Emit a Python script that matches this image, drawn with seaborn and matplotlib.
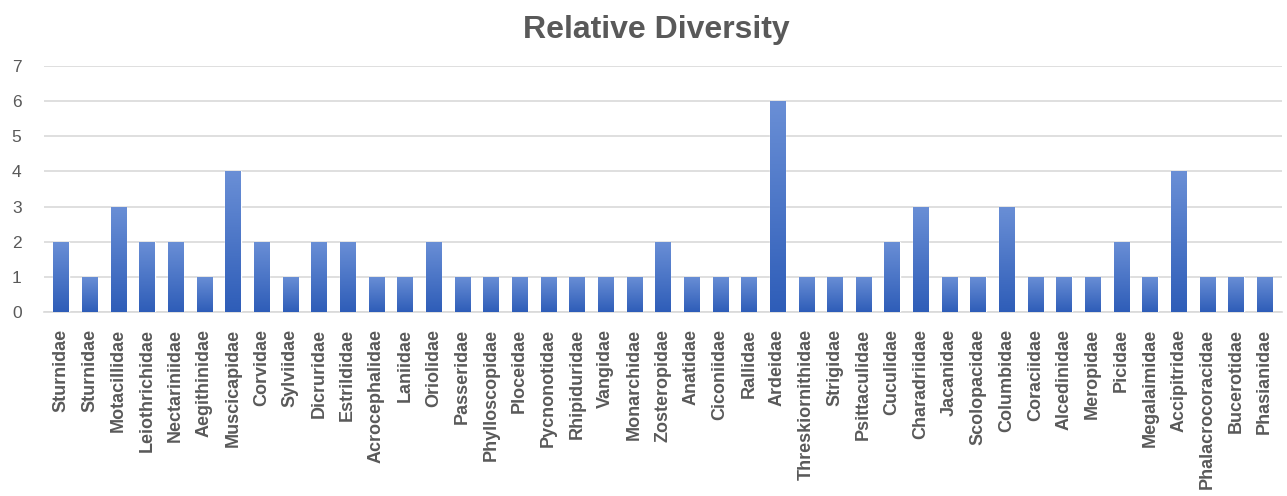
import matplotlib
matplotlib.use("Agg")
import matplotlib.pyplot as plt
import numpy as np
import pandas as pd
import seaborn as sns

families = ["Sturnidae", "Sturnidae", "Motacillidae", "Leiothrichidae", "Nectariniidae",
            "Aegithinidae", "Muscicapidae", "Corvidae", "Sylviidae", "Dicruridae",
            "Estrildidae", "Acrocephalidae", "Laniidae", "Oriolidae", "Passeridae",
            "Phylloscopidae", "Ploceidae", "Pycnonotidae", "Rhipiduridae", "Vangidae",
            "Monarchidae", "Zosteropidae", "Anatidae", "Ciconiidae", "Rallidae",
            "Ardeidae", "Threskiornithidae", "Strigidae", "Psittaculidae", "Cuculidae",
            "Charadriidae", "Jacanidae", "Scolopacidae", "Columbidae", "Coraciidae",
            "Alcedinidae", "Meropidae", "Picidae", "Megalaimidae", "Accipitridae",
            "Phalacrocoracidae", "Bucerotidae", "Phasianidae"]
diversity = [2, 1, 3, 2, 2, 1, 4, 2, 1, 2,
             2, 1, 1, 2, 1, 1, 1, 1, 1, 1,
             1, 2, 1, 1, 1, 6, 1, 1, 1, 2,
             3, 1, 1, 3, 1, 1, 1, 2, 1, 4,
             1, 1, 1]

df = pd.DataFrame({"pos": np.arange(len(families)), "value": diversity})

sns.set_theme(style="white")
plt.rcParams["font.family"] = ["Liberation Sans", "DejaVu Sans"]

fig = plt.figure(figsize=(12.87, 4.96), dpi=100)
ax = fig.add_axes([0.034, 0.371, 0.962, 0.496])

sns.barplot(data=df, x="pos", y="value", color="#4472C4", width=0.53,
            saturation=1, ax=ax, zorder=3)

# vertical gradient fill on each bar, like the spreadsheet original
grad = np.linspace(0, 1, 256).reshape(-1, 1)
cmap = matplotlib.colors.LinearSegmentedColormap.from_list("g", ["#2E5DB8", "#6A8FD6"])
for bar in ax.patches:
    x0, y0 = bar.get_x(), bar.get_y()
    w, h = bar.get_width(), bar.get_height()
    im = ax.imshow(grad, extent=[x0, x0 + w, y0, y0 + h], origin="lower",
                   cmap=cmap, aspect="auto", zorder=4)
    im.set_clip_path(bar)

ax.set_xlim(-0.6, len(families) - 0.4)
ax.set_ylim(0, 7)
ax.set_yticks(range(0, 8))
ax.yaxis.grid(True, color="#D9D9D9", linewidth=1.2, zorder=0)
ax.set_axisbelow(True)
for s in ["top", "right", "left"]:
    ax.spines[s].set_visible(False)
ax.spines["bottom"].set_color("#D9D9D9")
ax.spines["bottom"].set_linewidth(1.2)

ax.set_xticks(df["pos"])
ax.set_xticklabels(families, rotation=90, fontsize=13, fontweight="bold", color="#595959")
ax.tick_params(axis="y", labelsize=12.5, labelcolor="#595959", length=0, pad=16)
ax.tick_params(axis="x", length=0, pad=12)
ax.set_xlabel("")
ax.set_ylabel("")

fig.suptitle("Relative Diversity", x=0.51, y=0.97, fontsize=23, fontweight="bold",
             color="#595959", va="top")

fig.savefig("out.png", dpi=100)
